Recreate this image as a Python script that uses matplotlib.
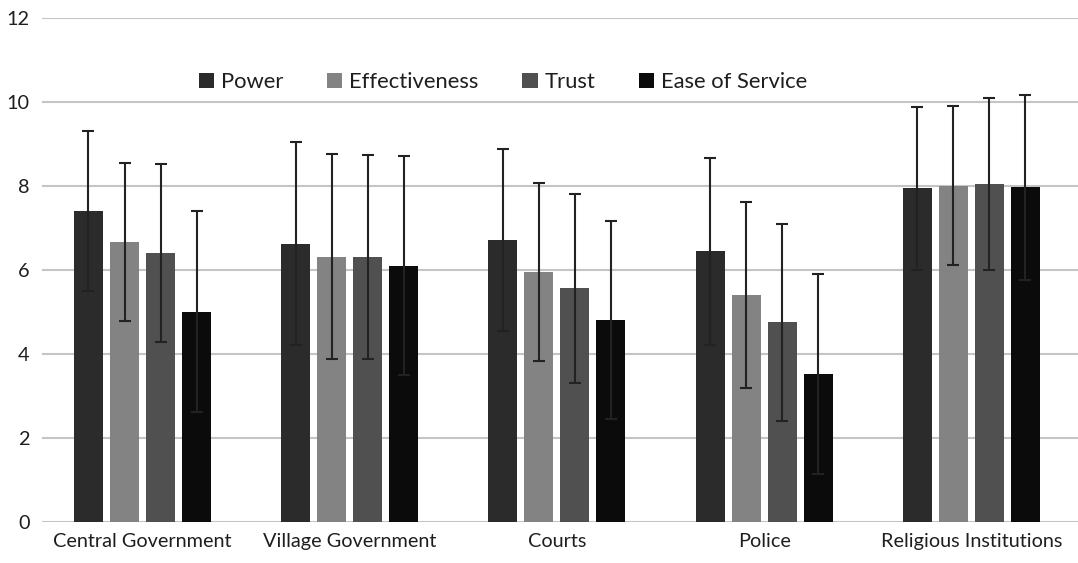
import matplotlib

matplotlib.use("Agg")
import matplotlib.pyplot as plt
import numpy as np

categories = ["Central Government", "Village Government", "Courts", "Police", "Religious Institutions"]
series = ["Power", "Effectiveness", "Trust", "Ease of Service"]

power = [7.40, 6.63, 6.71, 6.44, 7.94]
effectiveness = [6.67, 6.32, 5.96, 5.40, 8.01]
trust = [6.40, 6.30, 5.56, 4.75, 8.05]
ease = [5.01, 6.10, 4.81, 3.52, 7.97]

power_sd = [1.91, 2.42, 2.16, 2.22, 1.93]
effectiveness_sd = [1.88, 2.44, 2.12, 2.22, 1.89]
trust_sd = [2.12, 2.43, 2.25, 2.35, 2.04]
ease_sd = [2.39, 2.61, 2.36, 2.38, 2.20]

colors = ["#2b2b2b", "#838383", "#505050", "#0b0b0b"]

plt.rcParams["font.family"] = ["Lato", "DejaVu Sans"]

fig = plt.figure(figsize=(10.78, 5.63), dpi=100)
ax = fig.add_axes([0.039, 0.073, 0.961, 0.895])

x = np.arange(len(categories))
width = 0.14
stride = 0.174
values = [power, effectiveness, trust, ease]
sds = [power_sd, effectiveness_sd, trust_sd, ease_sd]
for i, (name, vals, sd, col) in enumerate(zip(series, values, sds, colors)):
    ax.bar(x + (i - 1.5) * stride, vals, width, color=col, label=name, zorder=2,
           yerr=sd, error_kw=dict(ecolor="#222222", elinewidth=1.5, capsize=4, capthick=1.5))

ax.set_xlim(-0.485, 4.515)
ax.set_ylim(0, 12)
ax.set_yticks(range(0, 13, 2))
ax.yaxis.grid(True, color="#c4c4c4", linewidth=1.5, zorder=0)
ax.set_axisbelow(True)
for s in ax.spines.values():
    s.set_visible(False)
ax.tick_params(axis="both", length=0, labelsize=14.3, colors="#1e1e1e")
ax.tick_params(axis="x", pad=8)
ax.tick_params(axis="y", pad=9)
ax.set_xticks(x)
ax.set_xticklabels(categories)

ax.legend(loc="center", bbox_to_anchor=(0.445, 0.873), ncol=4, frameon=False,
          fontsize=15.8, handlelength=0.7, handleheight=0.7, handletextpad=0.3,
          columnspacing=2.0, labelcolor="#1e1e1e")

fig.savefig("out.png", dpi=100)
